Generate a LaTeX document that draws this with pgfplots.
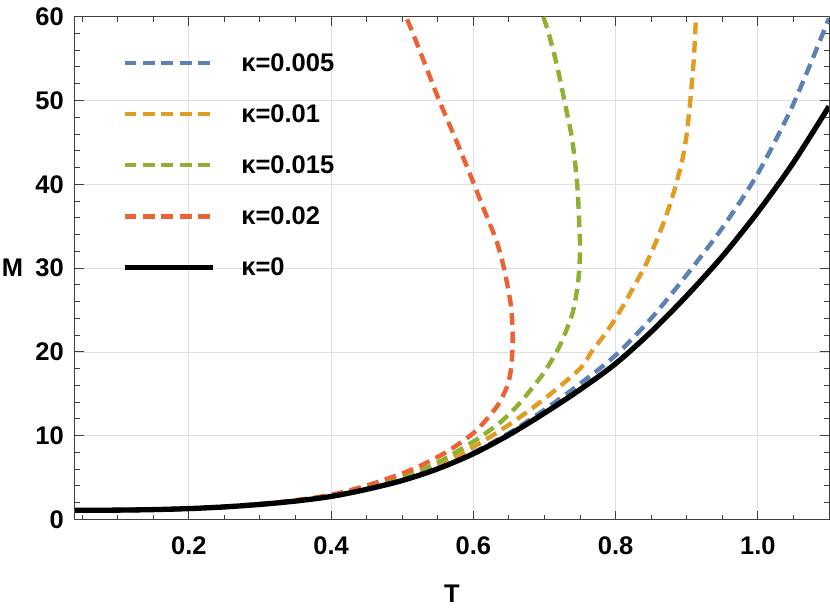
\documentclass[border=0pt]{standalone}
\usepackage{fontspec}
\setmainfont{Liberation Sans}
\usepackage{pgfplots}
\pgfplotsset{compat=1.18}
\definecolor{mblue}{RGB}{94,129,181}
\definecolor{morange}{RGB}{225,156,36}
\definecolor{mgreen}{RGB}{143,176,50}
\definecolor{mred}{RGB}{235,98,53}
\begin{document}
\begin{tikzpicture}
\begin{axis}[
  scale only axis, width=754pt, height=502.8pt,
  xmin=0.04, xmax=1.1, ymin=0, ymax=60,
  xtick={0.2,0.4,0.6,0.8,1.0},
  xticklabels={0.2,0.4,0.6,0.8,1.0},
  minor xtick={0.05,0.1,...,1.1},
  ytick={0,10,...,60},
  minor ytick={2,4,...,58},
  tick align=inside,
  major tick length=9pt, minor tick length=5pt,
  grid=major,
  grid style={line width=0.8pt, black!12},
  axis line style={line width=1pt, black!75},
  every tick/.style={line width=1pt, black!75},
  /pgf/number format/assume math mode=true,
  tick label style={font=\fontsize{25.5}{27}\selectfont\bfseries},
  xticklabel style={inner sep=0pt, anchor=north, yshift=-16.5pt},
  yticklabel style={inner sep=0pt, anchor=east, xshift=-11pt},
  xlabel={T}, ylabel={M},
  label style={font=\fontsize{25.5}{27}\selectfont\bfseries, inner sep=0pt},
  xlabel style={at={(axis description cs:0.5,0)}, anchor=center, yshift=-74.5pt},
  ylabel style={at={(axis description cs:0,0.5)}, rotate=-90, anchor=center, xshift=-62.5pt},
  legend style={at={(0.0623,0.927)}, anchor=north west, draw=none, fill=none,
    inner sep=0pt, outer sep=0pt, row sep=31.8pt, column sep=26pt,
    font=\fontsize{25.5}{27}\selectfont\bfseries, nodes={inner sep=0pt}},
  legend cell align=left,
  legend image code/.code={\draw[#1] (0pt,0pt) -- (88pt,0pt);},
  every axis plot/.append style={smooth},
]
\addplot[mblue, line width=4.4pt, dash pattern=on 11.7pt off 6.7pt] coordinates {
(0.04,1.1) (0.1,1.12) (0.2,1.3) (0.3,1.8) (0.4,2.76) (0.45,3.62) (0.5,4.7) (0.55,6.15)
(0.6,8.0) (0.65,10.3) (0.7,13.1) (0.75,16.2) (0.8,19.6) (0.85,24.0) (0.9,29.2)
(0.95,34.8) (1.0,41.3) (1.05,49.6) (1.1,59.8)};
\addlegendentry{κ=0.005}
\addplot[morange, line width=4.4pt, dash pattern=on 11.7pt off 6.7pt] coordinates {
(0.04,1.1) (0.1,1.12) (0.2,1.3) (0.3,1.8) (0.4,2.78) (0.45,3.68) (0.5,4.8) (0.55,6.45)
(0.6,8.65) (0.65,11.3) (0.7,14.4) (0.75,18.0) (0.766,20) (0.784,22) (0.8,24)
(0.814,26) (0.827,28) (0.84,30) (0.851,32) (0.861,34) (0.870,36) (0.878,38)
(0.885,40) (0.894,43) (0.9,46) (0.905,50) (0.910,55) (0.913,60.2)};
\addlegendentry{κ=0.01}
\addplot[mgreen, line width=4.4pt, dash pattern=on 11.7pt off 6.7pt] coordinates {
(0.04,1.1) (0.1,1.12) (0.2,1.3) (0.3,1.82) (0.4,2.8) (0.45,3.75) (0.5,5.0) (0.55,6.8)
(0.6,9.3) (0.614,10.1) (0.638,11.6) (0.661,13.5) (0.68,15.4) (0.699,17.5) (0.717,20.0)
(0.727,21.8) (0.739,24.5) (0.746,27.5) (0.749,30) (0.750,32.5) (0.749,35) (0.746,40)
(0.739,45.3) (0.728,50) (0.718,54) (0.706,58) (0.697,60.3)};
\addlegendentry{κ=0.015}
\addplot[mred, line width=4.4pt, dash pattern=on 11.7pt off 6.7pt] coordinates {
(0.04,1.1) (0.1,1.12) (0.2,1.3) (0.3,1.85) (0.35,2.3) (0.4,2.95) (0.45,4.05) (0.5,5.5)
(0.525,6.4) (0.544,7.2) (0.563,8.1) (0.581,9.1) (0.6,10.3) (0.614,11.5) (0.626,12.7)
(0.637,14) (0.648,16) (0.653,18) (0.655,20.5) (0.655,23) (0.652,26) (0.643,30)
(0.6335,33) (0.6245,35) (0.6125,37.5) (0.601,40) (0.577,45) (0.552,50) (0.529,55)
(0.515,58) (0.504,60.3)};
\addlegendentry{κ=0.02}
\addplot[black, line width=5.3pt] coordinates {
(0.04,1.1) (0.1,1.12) (0.15,1.18) (0.2,1.3) (0.25,1.5) (0.3,1.8) (0.35,2.2) (0.4,2.75)
(0.45,3.6) (0.5,4.65) (0.55,6.05) (0.6,7.85) (0.65,10.1) (0.7,12.7) (0.75,15.5)
(0.8,18.6) (0.85,22.4) (0.9,26.7) (0.95,31.4) (1.0,36.7) (1.05,42.6) (1.1,49.3)};
\addlegendentry{κ=0}
\end{axis}
\pgfresetboundingbox
\path[use as bounding box] (-75pt,-91.5pt) rectangle (755pt,519.5pt);
\end{tikzpicture}
\end{document}
